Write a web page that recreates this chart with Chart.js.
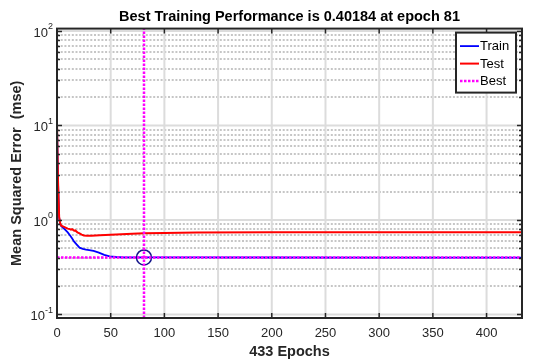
<!DOCTYPE html>
<html lang="en">
  <head>
    <meta charset="UTF-8" />
    <title>Best Training Performance</title>
    <script src="https://cdn.jsdelivr.net/npm/chart.js"></script>
    <style>
      body {
        margin: 0;
        background: #fff;
      }
    </style>
  </head>
  <body>
    <canvas id="perfChart" width="533" height="361"></canvas>

    <script>
      // Training record (epochs, mean squared error)
      const trainEpochs = [0, 1, 2, 3, 4, 6, 8, 10, 12, 14, 16, 18, 21, 24, 27, 30, 34, 39, 44, 49, 55, 62, 70, 81, 120, 200, 300, 433];
      const trainMse = [10.1, 2.4, 1.05, 0.9, 0.86, 0.82, 0.78, 0.74, 0.69, 0.64, 0.59, 0.555, 0.51, 0.495, 0.485, 0.48, 0.47, 0.452, 0.428, 0.413, 0.406, 0.403, 0.4025, 0.40184, 0.4013, 0.4007, 0.4002, 0.3997];

      const testEpochs = [0, 1, 2, 3, 4, 6, 8, 10, 12, 13, 14, 16, 17, 19, 21, 23, 25, 28, 32, 36, 40, 45, 50, 60, 70, 81, 100, 130, 200, 300, 433];
      const testMse = [10.6, 2.5, 1.08, 0.92, 0.87, 0.85, 0.83, 0.81, 0.8, 0.79, 0.8, 0.77, 0.775, 0.74, 0.72, 0.7, 0.685, 0.68, 0.682, 0.685, 0.688, 0.692, 0.697, 0.705, 0.713, 0.722, 0.73, 0.737, 0.741, 0.743, 0.744];

      const bestEpoch = 81;
      const bestMse = 0.40184;
      const totalEpochs = 433;

      const xTickValues = [0, 50, 100, 150, 200, 250, 300, 350, 400];
      const yDecadeExps = [-1, 0, 1, 2];
      const yMin = 0.0918;
      const yMax = 106;

      const legendItems = ["Train", "Test", "Best"];

      Chart.defaults.font.family = "'Liberation Sans', Arial, sans-serif";

      const frameColor = "#262626";

      // MATLAB-style axes: grid, inward ticks, box, exponent labels, legend
      const axesDecor = {
        id: "axesDecor",
        beforeDatasetsDraw(chart) {
          const { ctx, chartArea: a, scales } = chart;
          const x = scales.x;
          const y = scales.y;
          ctx.save();
          ctx.beginPath();
          ctx.rect(a.left, a.top, a.width, a.height);
          ctx.clip();

          // minor dotted lines
          ctx.strokeStyle = "#c6c6c6";
          ctx.lineWidth = 2;
          ctx.setLineDash([2, 1.7]);
          yDecadeExps.forEach((e) => {
            for (let m = 2; m <= 9; m++) {
              const py = Math.round(y.getPixelForValue(m * Math.pow(10, e)));
              ctx.beginPath();
              ctx.moveTo(a.left, py);
              ctx.lineTo(a.right, py);
              ctx.stroke();
            }
          });

          // major solid lines
          ctx.setLineDash([]);
          ctx.strokeStyle = "#dcdcdc";
          ctx.lineWidth = 2;
          xTickValues.forEach((v) => {
            const px = x.getPixelForValue(v);
            ctx.beginPath();
            ctx.moveTo(px, a.top);
            ctx.lineTo(px, a.bottom);
            ctx.stroke();
          });
          yDecadeExps.forEach((e) => {
            const py = y.getPixelForValue(Math.pow(10, e));
            ctx.beginPath();
            ctx.moveTo(a.left, py);
            ctx.lineTo(a.right, py);
            ctx.stroke();
          });
          ctx.restore();
        },
        afterDatasetsDraw(chart) {
          const { ctx, chartArea: a, scales } = chart;
          const x = scales.x;
          const y = scales.y;
          ctx.save();
          ctx.strokeStyle = frameColor;
          ctx.lineWidth = 1.5;

          // inward tick marks
          xTickValues.forEach((v) => {
            const px = x.getPixelForValue(v);
            ctx.beginPath();
            ctx.moveTo(px, a.bottom);
            ctx.lineTo(px, a.bottom - 5);
            ctx.moveTo(px, a.top);
            ctx.lineTo(px, a.top + 5);
            ctx.stroke();
          });
          yDecadeExps.forEach((e) => {
            for (let m = 1; m <= 9; m++) {
              const v = m * Math.pow(10, e);
              if (v < yMin || v > yMax) continue;
              const py = Math.round(y.getPixelForValue(v)) + 0.5;
              const len = m === 1 ? 5 : 3;
              ctx.beginPath();
              ctx.moveTo(a.left, py);
              ctx.lineTo(a.left + len, py);
              ctx.moveTo(a.right, py);
              ctx.lineTo(a.right - len, py);
              ctx.stroke();
            }
          });

          // axes box
          ctx.lineWidth = 2;
          ctx.strokeRect(a.left, a.top, a.width, a.height);

          // y labels as 10 with a raised exponent
          ctx.fillStyle = frameColor;
          yDecadeExps.forEach((e) => {
            const py = y.getPixelForValue(Math.pow(10, e));
            const expText = e < 0 ? "-" + Math.abs(e) : String(e);
            ctx.font = "9px 'Liberation Sans', Arial, sans-serif";
            ctx.textBaseline = "middle";
            ctx.textAlign = "right";
            const expW = ctx.measureText(expText).width;
            ctx.fillText(expText, a.left - 4, py - 4);
            ctx.font = "13px 'Liberation Sans', Arial, sans-serif";
            ctx.fillText("10", a.left - 4 - expW, py + 2);
          });

          // legend box in the upper right corner
          const bw = 60;
          const bh = 60;
          const bx = a.right - 6 - bw;
          const by = a.top + 4;
          ctx.fillStyle = "#fff";
          ctx.fillRect(bx, by, bw, bh);
          ctx.strokeStyle = frameColor;
          ctx.lineWidth = 2;
          ctx.strokeRect(bx, by, bw, bh);
          ctx.font = "13px 'Liberation Sans', Arial, sans-serif";
          ctx.textAlign = "left";
          ctx.textBaseline = "middle";
          legendItems.forEach((name, i) => {
            const ds = chart.data.datasets.find((d) => d.label === name);
            const ry = by + 13.5 + i * 17.5;
            ctx.beginPath();
            ctx.strokeStyle = ds.borderColor;
            ctx.lineWidth = ds.borderWidth;
            ctx.setLineDash(ds.borderDash || []);
            ctx.moveTo(bx + 4, ry);
            ctx.lineTo(bx + 23, ry);
            ctx.stroke();
            ctx.setLineDash([]);
            ctx.fillStyle = "#000";
            ctx.fillText(name, bx + 24, ry + 0.5);
          });
          ctx.restore();
        },
      };

      const toPoints = (xs, ys) => xs.map((e, i) => ({ x: e, y: ys[i] }));

      const perfChart = new Chart(document.getElementById("perfChart"), {
        type: "line",
        data: {
          datasets: [
            {
              label: "Best",
              data: [
                { x: 0, y: bestMse },
                { x: totalEpochs, y: bestMse },
              ],
              borderColor: "#ff00ff",
              borderDash: [2.5, 1.5],
              borderWidth: 2.5,
              pointRadius: 0,
              order: 0,
            },
            {
              label: "bestEpochLine",
              data: [
                { x: bestEpoch, y: yMin },
                { x: bestEpoch, y: yMax },
              ],
              borderColor: "#ff00ff",
              borderDash: [2.5, 1.5],
              borderWidth: 2.5,
              pointRadius: 0,
              order: 0,
            },
            {
              label: "bestPoint",
              data: [{ x: bestEpoch, y: bestMse }],
              showLine: false,
              pointRadius: 7.5,
              pointBorderWidth: 1.5,
              pointBorderColor: "#16168c",
              pointBackgroundColor: "rgba(0,0,0,0)",
              order: 0,
            },
            {
              label: "Test",
              data: toPoints(testEpochs, testMse),
              borderColor: "#ff0000",
              borderWidth: 2,
              pointRadius: 0,
              tension: 0,
              order: 1,
            },
            {
              label: "Train",
              data: toPoints(trainEpochs, trainMse),
              borderColor: "#0000ff",
              borderWidth: 1.8,
              pointRadius: 0,
              tension: 0,
              order: 2,
            },
          ],
        },
        options: {
          responsive: false,
          animation: false,
          layout: { padding: { right: 11 } },
          plugins: {
            legend: { display: false },
            tooltip: { enabled: false },
            title: {
              display: true,
              text: "Best Training Performance is 0.40184 at epoch 81",
              color: "#000",
              font: { size: 14.5, weight: "bold" },
              padding: { top: 8, bottom: 3.2 },
              fullSize: false,
            },
          },
          scales: {
            x: {
              type: "linear",
              min: 0,
              max: totalEpochs,
              grid: { display: false, drawTicks: false },
              border: { display: false },
              afterBuildTicks: (s) => {
                s.ticks = xTickValues.map((v) => ({ value: v }));
              },
              ticks: {
                padding: 8,
                color: frameColor,
                font: { size: 13 },
                maxRotation: 0,
                autoSkip: false,
              },
              title: {
                display: true,
                text: "433 Epochs",
                color: frameColor,
                font: { size: 14.5, weight: "bold" },
                padding: { top: 0, bottom: 0 },
              },
              afterFit: (s) => {
                s.height = 43;
              },
            },
            y: {
              type: "logarithmic",
              min: yMin,
              max: yMax,
              grid: { display: false, drawTicks: false },
              border: { display: false },
              ticks: { display: false },
              title: {
                display: true,
                text: "Mean Squared Error  (mse)",
                color: frameColor,
                font: { size: 14.5, weight: "bold" },
                padding: { top: 8, bottom: 0 },
              },
              afterFit: (s) => {
                s.width = 57;
              },
            },
          },
        },
        plugins: [axesDecor],
      });
    </script>
  </body>
</html>
